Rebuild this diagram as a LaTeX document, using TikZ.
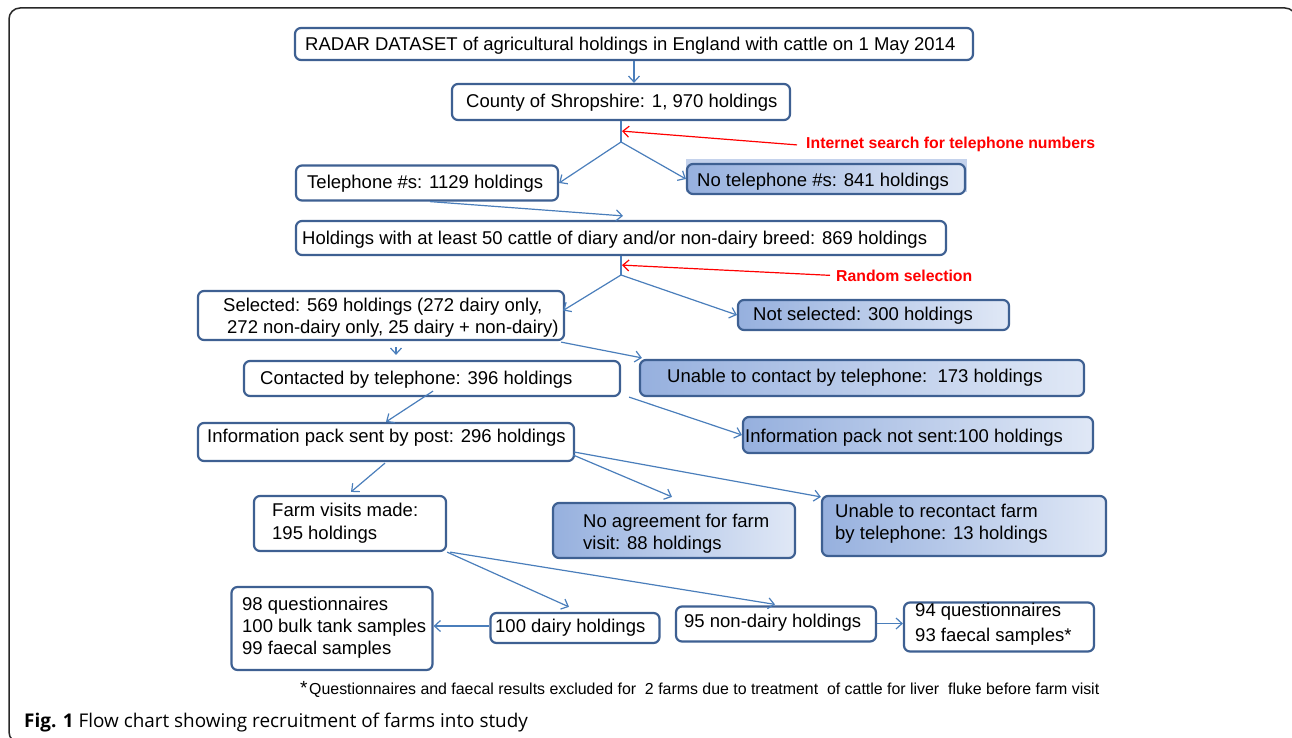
\documentclass[tikz,border=0pt]{standalone}
\usepackage{fontspec}
\setmainfont{Liberation Sans}
\newfontfamily\capfont{Open Sans}
\usetikzlibrary{arrows.meta,calc}
\definecolor{boxline}{RGB}{62,96,146}
\definecolor{arrowc}{RGB}{74,126,187}
\definecolor{shA}{RGB}{150,176,222}
\definecolor{shB}{RGB}{224,232,246}
\definecolor{glow}{RGB}{196,210,236}
\definecolor{framec}{RGB}{40,40,40}
\tikzset{
  box/.style={draw=boxline, line width=2.2pt, rounded corners=6pt, fill=white, inner sep=0pt},
  shbox/.style={box, left color=shA, right color=shB},
  txt/.style={inner sep=0pt, anchor=base west, font=\fontsize{18.5}{22}\selectfont},
  redtxt/.style={inner sep=0pt, anchor=base west, text=red, font=\bfseries\fontsize{15.8}{18}\selectfont},
  conn/.style={draw=arrowc, line width=1.2pt, -{Straight Barb[length=6pt,width=11pt]}},
  plainconn/.style={draw=arrowc, line width=1.2pt},
  redconn/.style={draw=red, line width=1.2pt, -{Straight Barb[length=6pt,width=11pt]}},
  framebox/.style={draw=framec, line width=1.5pt, rounded corners=11pt}
}
\begin{document}
\begin{tikzpicture}[x=1pt,y=-1pt]
\useasboundingbox (0,0) rectangle (1292,738);
\clip (0,0) rectangle (1292,738);
\draw[framebox] (9,8) rectangle (1296,743);

% boxes
\node[box, minimum width=678pt, minimum height=32pt] (radar) at (634,44) {};
\node[box, minimum width=338pt, minimum height=36pt] (county) at (621,102) {};
\node[box, minimum width=262pt, minimum height=35pt] (tel) at (427,183) {};
\fill[glow] (686,159) rectangle (967,192);
\node[shbox, minimum width=278pt, minimum height=30pt] (notel) at (826,179) {};
\node[box, minimum width=650pt, minimum height=34pt] (hold) at (621,238) {};
\node[box, minimum width=366pt, minimum height=49pt] (sel) at (381,315.5) {};
\node[shbox, minimum width=271pt, minimum height=30pt] (notsel) at (873.5,315) {};
\node[box, minimum width=376pt, minimum height=35pt] (cont) at (432,378.5) {};
\node[shbox, minimum width=444pt, minimum height=36pt] (unable) at (862,378) {};
\node[box, minimum width=376pt, minimum height=38pt] (info) at (386,442) {};
\node[shbox, minimum width=350pt, minimum height=36pt] (infonot) at (918,435) {};
\node[box, minimum width=192pt, minimum height=55pt] (farm) at (350,523.5) {};
\node[shbox, minimum width=242pt, minimum height=55pt] (noagree) at (674,530.5) {};
\node[shbox, minimum width=284pt, minimum height=60pt] (recon) at (964,526) {};
\node[box, minimum width=201pt, minimum height=83pt] (qdairy) at (332,628.5) {};
\node[box, minimum width=169pt, minimum height=30pt] (dairy) at (575,628) {};
\node[box, minimum width=200pt, minimum height=35pt] (nondairy) at (776,624) {};
\node[box, minimum width=190pt, minimum height=49pt] (qnon) at (999,627) {};

% texts
\node[txt] (radarT) at (305,51) {RADAR DATASET of agricultural holdings in England with cattle on 1 May 2014};
\node[txt] (countyT) at (466,108) {County of Shropshire: 1, 970 holdings};
\node[txt] (telT) at (307,189) {Telephone \#s: 1129 holdings};
\node[txt] (notelT) at (697,186) {No telephone \#s: 841 holdings};
\node[txt] (holdT) at (302,244.5) {Holdings with at least 50 cattle of diary and/or non-dairy breed: 869 holdings};
\node[txt] (selT1) at (223,311) {Selected: 569 holdings (272 dairy only,};
\node[txt] (selT2) at (227,333) {272 non-dairy only, 25 dairy + non-dairy)};
\node[txt] (notselT) at (753,320) {Not selected: 300 holdings};
\node[txt] (contT) at (260,384.5) {Contacted by telephone: 396 holdings};
\node[txt] (unableT) at (667,382) {Unable to contact by telephone:\ \ 173 holdings};
\node[txt] (infoT) at (207,442.5) {Information pack sent by post: 296 holdings};
\node[txt] (infonotT) at (745,442) {Information pack not sent:100 holdings};
\node[txt] (farmT1) at (272,516.5) {Farm visits made:};
\node[txt] (farmT2) at (272,539) {195 holdings};
\node[txt] (noagreeT1) at (583,527) {No agreement for farm};
\node[txt] (noagreeT2) at (583,549) {visit: 88 holdings};
\node[txt] (reconT1) at (835,517) {Unable to recontact farm};
\node[txt] (reconT2) at (835,539) {by telephone: 13 holdings};
\node[txt] (qdairyT1) at (242,610) {98 questionnaires};
\node[txt] (qdairyT2) at (242,632) {100 bulk tank samples};
\node[txt] (qdairyT3) at (242,654) {99 faecal samples};
\node[txt] (dairyT) at (495,632.5) {100 dairy holdings};
\node[txt] (nondairyT) at (684,627) {95 non-dairy holdings};
\node[txt] (qnonT1) at (915,616.5) {94 questionnaires};
\node[txt] (qnonT2) at (915,641) {93 faecal samples*};
\node[redtxt] (inet) at (806,149) {Internet search for telephone numbers};
\node[redtxt] (rand) at (836,281) {Random selection};
\node[inner sep=0pt, anchor=base west, font=\fontsize{19}{19}\selectfont] (star) at (300,694) {*};
\node[inner sep=0pt, anchor=base west, font=\fontsize{15.9}{18}\selectfont] (foot) at (309,694) {Questionnaires and faecal results excluded for\ \ 2 farms due to treatment\ \ of cattle for liver\ \ fluke before farm visit};
\node[inner sep=0pt, anchor=base west, font=\capfont\fontsize{18.9}{20}\selectfont] (caption) at (24,727) {\textbf{Fig. 1} Flow chart showing recruitment of farms into study};

% junctions and arrow start points
\coordinate (j1) at (621,142);
\coordinate (j2) at (621,275);
\coordinate (dw) at ($(dairy.west)+(0,-2)$);
\coordinate (ne) at ($(nondairy.east)+(0,-0.5)$);

% connectors
\draw[conn] (radar.south) -- (radar.south |- county.north);
\draw[plainconn] (county.south) -- (j1);
\draw[conn] (j1) -- (tel.east);
\draw[conn] (j1) -- (notel.west);
\draw[redconn] ($(inet.west)+(-9,0)$) -- ($(county.south)+(1,10)$);
\draw[conn] ($(tel.south)+(3,0)$) -- ($(hold.north)+(2,-4)$);
\draw[plainconn] (hold.south) -- (j2);
\draw[redconn] ($(rand.west)+(-6,0)$) -- ($(hold.south)+(1,9)$);
\draw[conn] (j2) -- ($(sel.east)+(-2,-5)$);
\draw[conn] (j2) -- (notsel.west);
\draw[conn] ($(sel.south)+(15,6)$) -- ($(cont.north)+(-36,-5)$);
\draw[conn] ($(sel.south east)+(-4,1)$) -- ($(unable.north west)+(3,-1)$);
\draw[conn] ($(cont.south)+(1,-6)$) -- (info.north);
\draw[conn] ($(cont.south east)+(8,0)$) -- (infonot.west);
\draw[conn] ($(info.south)+(-1,1)$) -- ($(farm.north)+(1,-3)$);
\draw[conn] ($(info.east)+(-2,13)$) -- ($(noagree.north)+(-2,-5)$);
\draw[conn] ($(info.east)+(-1,10)$) -- ($(recon.north west)+(0,2)$);
\draw[conn] (farm.south east) -- ($(dairy.north)+(-6,-5)$);
\draw[conn] ($(farm.south east)+(3,0)$) -- ($(nondairy.north)+(-1,-1)$);
\draw[conn] (dw) -- (dw -| qdairy.east);
\draw[conn] (ne) -- (ne -| qnon.west);
\end{tikzpicture}
\end{document}
